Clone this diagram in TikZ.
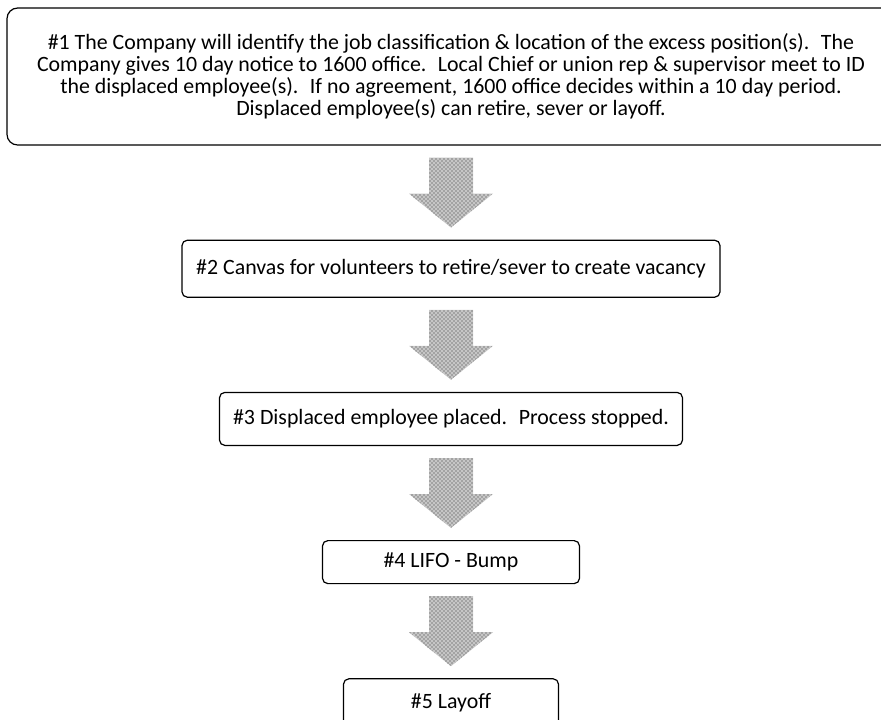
\documentclass[tikz,border=0pt]{standalone}
\usepackage{fontspec}
\setmainfont{Carlito}
\usetikzlibrary{positioning,calc,patterns}

% stippled block arrow from one box down to the next
\newcommand{\blockdown}[2]{%
  \path[stipple] ($(#1.south)+(-22,12)$) -- ($(#1.south)+(22,12)$)
    -- ($(#2.north)+(22,-46)$) -- ($(#2.north)+(42,-46)$) -- ($(#2.north)+(0,-12)$)
    -- ($(#2.north)+(-42,-46)$) -- ($(#2.north)+(-22,-46)$) -- cycle;}

\begin{document}
\begin{tikzpicture}[x=0.75pt,y=-0.75pt,node distance=70.5pt]
    \tikzset{
      box/.style={rounded corners=4pt,draw=black,line width=0.9pt,minimum height=32.25pt,align=center,inner sep=0pt,font=\fontsize{16.4}{16.5}\selectfont},
      bigbox/.style={box,rounded corners=8pt,minimum width=666pt,minimum height=102.75pt},
      stipple/.style={fill=gray!45,postaction={pattern=crosshatch dots,pattern color=black!80}}
    }
    \useasboundingbox (0,0) rectangle (881,719);
    \node[bigbox] (identify) at (451,76.5) {\#1 The Company will identify the job classification \& location of the excess position(s).~ The\\
      Company gives 10 day notice to 1600 office.~ Local Chief or union rep \& supervisor meet to ID\\
      the displaced employee(s).~ If no agreement, 1600 office decides within a 10 day period.\\
      Displaced employee(s) can retire, sever or layoff.};
    \node[box,below=of identify,minimum width=403.5pt,minimum height=42.75pt] (canvas) {\#2 Canvas for volunteers to retire/sever to create vacancy};
    \node[box,below=of canvas,minimum width=347.25pt,minimum height=39.75pt] (placed) {\#3 Displaced employee placed.~ Process stopped.};
    \node[box,below=of placed,minimum width=192.75pt] (lifo) {\#4 LIFO - Bump};
    \node[box,below=of lifo,minimum width=161.25pt,minimum height=35.25pt] (layoff) {\#5 Layoff};
    \blockdown{identify}{canvas}
    \blockdown{canvas}{placed}
    \blockdown{placed}{lifo}
    \blockdown{lifo}{layoff}
  \end{tikzpicture}
\end{document}
